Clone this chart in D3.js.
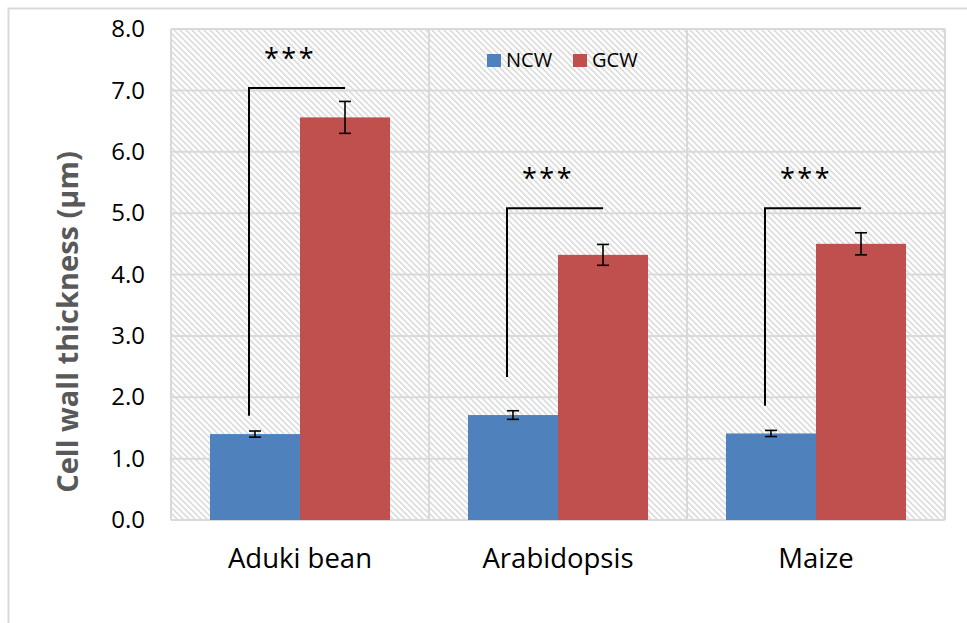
<!DOCTYPE html>
<html>
<head>
<meta charset="utf-8">
<script src="https://cdn.jsdelivr.net/npm/d3@7"></script>
<style>
  html, body { margin: 0; padding: 0; background: #fff; }
  svg { display: block; font-family: "Open Sans", "Noto Sans", sans-serif; }
</style>
</head>
<body>
<svg id="chart" width="967" height="623"></svg>
<script>
// Cell wall thickness of normal (NCW) vs guard (GCW) cell walls
const categories = ["Aduki bean", "Arabidopsis", "Maize"];
const seriesNames = ["NCW", "GCW"];
const seriesColors = ["#4F81BD", "#C0504D"];
const ncwValues = [1.40, 1.71, 1.41];
const gcwValues = [6.56, 4.32, 4.50];
const ncwErrors = [0.05, 0.07, 0.05];
const gcwErrors = [0.26, 0.17, 0.18];
// significance brackets: top level and level of the left foot
const bracketTop = [7.04, 5.08, 5.08];
const bracketFoot = [1.70, 2.33, 1.86];
const sigLabels = ["***", "***", "***"];
const yTicks = [0, 1, 2, 3, 4, 5, 6, 7, 8];

const svg = d3.select("#chart");
const plot = { left: 171, top: 29, right: 945, bottom: 520 };

// hatched plot background
const defs = svg.append("defs");
const pat = defs.append("pattern")
  .attr("id", "hatch")
  .attr("patternUnits", "userSpaceOnUse")
  .attr("width", 6).attr("height", 6);
pat.append("rect").attr("width", 6).attr("height", 6).attr("fill", "#fff");
pat.append("path")
  .attr("d", "M0,0L6,6M-3,3L3,9M3,-3L9,3")
  .attr("stroke", "#dcdcdc").attr("stroke-width", 1.6);

// outer chart frame
svg.append("rect")
  .attr("x", 8.5).attr("y", 8.5).attr("width", 1000).attr("height", 700)
  .attr("fill", "#fff").attr("stroke", "#d9d9d9").attr("stroke-width", 2);

const x0 = d3.scaleBand().domain(categories)
  .range([plot.left, plot.right]).paddingInner(0).paddingOuter(0);
const x1 = d3.scaleBand().domain(seriesNames)
  .range([0, x0.bandwidth()]).paddingInner(0).paddingOuter(0.433);
const y = d3.scaleLinear().domain([0, 8]).range([plot.bottom, plot.top]);

svg.append("rect")
  .attr("x", plot.left).attr("y", plot.top)
  .attr("width", plot.right - plot.left).attr("height", plot.bottom - plot.top)
  .attr("fill", "url(#hatch)");

// horizontal gridlines
svg.append("g")
  .selectAll("line").data(yTicks).join("line")
  .attr("x1", plot.left).attr("x2", plot.right)
  .attr("y1", d => y(d)).attr("y2", d => y(d))
  .attr("stroke", "#d9d9d9").attr("stroke-width", 2);

// vertical category separators and frame sides
const sepX = categories.map(c => x0(c)).concat([plot.right]);
svg.append("g")
  .selectAll("line").data(sepX).join("line")
  .attr("x1", d => d).attr("x2", d => d)
  .attr("y1", plot.top).attr("y2", plot.bottom)
  .attr("stroke", "#d9d9d9").attr("stroke-width", 2);

// y axis tick labels
const yAxis = d3.axisLeft(y).tickValues(yTicks).tickFormat(d3.format(".1f")).tickSize(0).tickPadding(26);
const ya = svg.append("g").attr("transform", `translate(${plot.left},0)`).call(yAxis);
ya.select(".domain").remove();
ya.selectAll("text").attr("font-size", 24).attr("fill", "#000")
  .attr("font-family", "'Open Sans', sans-serif");

// x axis category labels
const xAxis = d3.axisBottom(x0).tickSize(0).tickPadding(28);
const xa = svg.append("g").attr("transform", `translate(0,${plot.bottom})`).call(xAxis);
xa.select(".domain").remove();
xa.selectAll("text").attr("font-size", 27.5).attr("fill", "#000")
  .attr("font-family", "'Open Sans', sans-serif");

// y axis title
svg.append("text")
  .attr("transform", "translate(78,322) rotate(-90)")
  .attr("text-anchor", "middle")
  .attr("font-size", 29).attr("font-weight", "bold").attr("fill", "#595959")
  .text("Cell wall thickness (µm)");

// bars
const rows = categories.map((c, i) => ({
  cat: c,
  vals: [
    { s: "NCW", v: ncwValues[i], e: ncwErrors[i] },
    { s: "GCW", v: gcwValues[i], e: gcwErrors[i] }
  ]
}));
const groups = svg.append("g").selectAll("g").data(rows).join("g")
  .attr("transform", d => `translate(${x0(d.cat)},0)`);
groups.selectAll("rect").data(d => d.vals).join("rect")
  .attr("x", d => x1(d.s)).attr("width", x1.bandwidth())
  .attr("y", d => y(d.v)).attr("height", d => y(0) - y(d.v))
  .attr("fill", (d, i) => seriesColors[i]);

// error bars
const cap = 6;
const eb = groups.selectAll("g.err").data(d => d.vals).join("g").attr("class", "err")
  .attr("stroke", "#000").attr("stroke-width", 1.6);
eb.append("line")
  .attr("x1", d => x1(d.s) + x1.bandwidth() / 2).attr("x2", d => x1(d.s) + x1.bandwidth() / 2)
  .attr("y1", d => y(d.v + d.e)).attr("y2", d => y(d.v - d.e));
eb.append("line")
  .attr("x1", d => x1(d.s) + x1.bandwidth() / 2 - cap).attr("x2", d => x1(d.s) + x1.bandwidth() / 2 + cap)
  .attr("y1", d => y(d.v + d.e)).attr("y2", d => y(d.v + d.e));
eb.append("line")
  .attr("x1", d => x1(d.s) + x1.bandwidth() / 2 - cap).attr("x2", d => x1(d.s) + x1.bandwidth() / 2 + cap)
  .attr("y1", d => y(d.v - d.e)).attr("y2", d => y(d.v - d.e));

// significance brackets
categories.forEach((c, i) => {
  const xl = x0(c) + x1("NCW") + x1.bandwidth() / 2 - 6;
  const xr = x0(c) + x1("GCW") + x1.bandwidth() / 2;
  svg.append("path")
    .attr("d", `M${xl},${y(bracketFoot[i])}V${y(bracketTop[i])}H${xr}`)
    .attr("fill", "none").attr("stroke", "#000").attr("stroke-width", 2);
  svg.append("text")
    .attr("x", (xl + xr) / 2 - 7).attr("y", y(bracketTop[i]) - 20)
    .attr("text-anchor", "middle")
    .attr("font-size", 27).attr("font-weight", 500).attr("fill", "#000")
    .attr("letter-spacing", 2.5)
    .text(sigLabels[i]);
});

// legend
const legendX = [487, 573];
const lg = svg.append("g").selectAll("g").data(seriesNames).join("g")
  .attr("transform", (d, i) => `translate(${legendX[i]},54)`);
lg.append("rect").attr("width", 14).attr("height", 13)
  .attr("fill", (d, i) => seriesColors[i]);
lg.append("text").attr("x", 19).attr("y", 13)
  .attr("font-size", 20).attr("fill", "#000")
  .text(d => d);
</script>
</body>
</html>
